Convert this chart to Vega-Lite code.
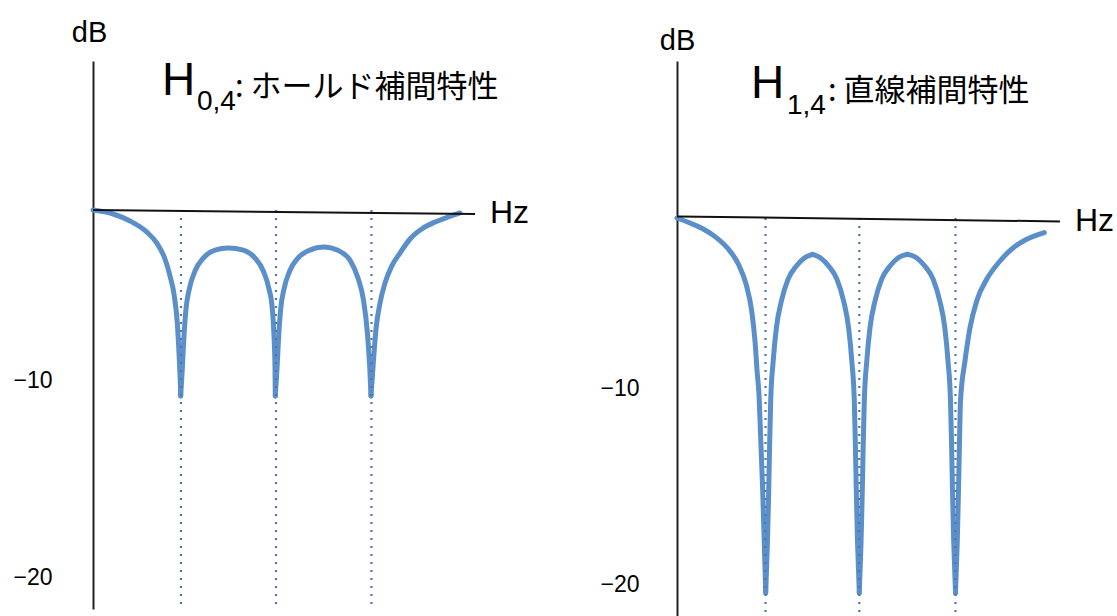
{
  "$schema": "https://vega.github.io/schema/vega-lite/v6.json",
  "background": "white",
  "padding": {"left": 12, "top": 18, "right": 0, "bottom": 0},
  "spacing": 199,
  "bounds": "flush",
  "config": {"view": {"stroke": null}, "axis": {"grid": false}},
  "hconcat": [
    {
      "width": 385,
      "height": 548,
      "encoding": {
        "y": {"type": "quantitative",
          "scale": {"type": "pow", "exponent": 1.11, "domain": [-21.56, 8.878], "nice": false, "zero": false},
          "axis": {"title": "dB", "titleAngle": 0, "titleX": -4, "titleY": -20, "titleAlign": "center", "titleBaseline": "alphabetic",
            "titleFont": "Liberation Sans", "titleFontSize": 29, "titleFontWeight": "normal", "titleColor": "#000",
            "values": [-10, -20], "format": "d", "ticks": false, "tickSize": 0, "labelPadding": 41,
            "labelFont": "Liberation Sans", "labelFontSize": 23, "labelColor": "#000",
            "domainColor": "#222", "domainWidth": 2, "grid": false}}
      },
      "layer": [
        {
          "data": {"values": [
            {"seg": 1, "f": 0, "db": 0}, {"seg": 1, "f": 0.203, "db": -0.34}, {"seg": 1, "f": 0.37, "db": -0.85}, {"seg": 1, "f": 0.537, "db": -1.58},
            {"seg": 1, "f": 0.637, "db": -2.28}, {"seg": 1, "f": 0.72, "db": -3.26}, {"seg": 1, "f": 0.77, "db": -4.26}, {"seg": 1, "f": 0.813, "db": -5.41},
            {"seg": 1, "f": 0.843, "db": -6.92}, {"seg": 1, "f": 0.86, "db": -8.55}, {"seg": 1, "f": 0.873, "db": -10.16}, {"seg": 1, "f": 0.877, "db": -10.84},
            {"seg": 2, "f": 0.877, "db": -10.84}, {"seg": 2, "f": 0.893, "db": -9.41}, {"seg": 2, "f": 0.91, "db": -7.63}, {"seg": 2, "f": 0.93, "db": -6.14},
            {"seg": 2, "f": 0.963, "db": -5.01}, {"seg": 2, "f": 1.02, "db": -3.97}, {"seg": 2, "f": 1.103, "db": -3.2}, {"seg": 2, "f": 1.22, "db": -2.72},
            {"seg": 2, "f": 1.353, "db": -2.59}, {"seg": 2, "f": 1.503, "db": -2.72}, {"seg": 2, "f": 1.62, "db": -3.2}, {"seg": 2, "f": 1.703, "db": -3.97},
            {"seg": 2, "f": 1.76, "db": -5.01}, {"seg": 2, "f": 1.793, "db": -6.14}, {"seg": 2, "f": 1.81, "db": -7.63}, {"seg": 2, "f": 1.82, "db": -9.41},
            {"seg": 2, "f": 1.823, "db": -10.84},
            {"seg": 3, "f": 1.823, "db": -10.84}, {"seg": 3, "f": 1.84, "db": -9.41}, {"seg": 3, "f": 1.857, "db": -7.63}, {"seg": 3, "f": 1.877, "db": -6.14},
            {"seg": 3, "f": 1.91, "db": -5.01}, {"seg": 3, "f": 1.967, "db": -3.97}, {"seg": 3, "f": 2.05, "db": -3.2}, {"seg": 3, "f": 2.167, "db": -2.72},
            {"seg": 3, "f": 2.305, "db": -2.53}, {"seg": 3, "f": 2.455, "db": -2.75}, {"seg": 3, "f": 2.575, "db": -3.38}, {"seg": 3, "f": 2.65, "db": -4.38},
            {"seg": 3, "f": 2.705, "db": -5.64}, {"seg": 3, "f": 2.745, "db": -7.52}, {"seg": 3, "f": 2.768, "db": -9.41}, {"seg": 3, "f": 2.78, "db": -10.84},
            {"seg": 4, "f": 2.78, "db": -10.84}, {"seg": 4, "f": 2.803, "db": -9.09}, {"seg": 4, "f": 2.83, "db": -7.25}, {"seg": 4, "f": 2.87, "db": -5.81},
            {"seg": 4, "f": 2.92, "db": -4.67}, {"seg": 4, "f": 2.987, "db": -3.68}, {"seg": 4, "f": 3.07, "db": -2.9}, {"seg": 4, "f": 3.17, "db": -2.03},
            {"seg": 4, "f": 3.287, "db": -1.39}, {"seg": 4, "f": 3.42, "db": -0.92}, {"seg": 4, "f": 3.553, "db": -0.56}, {"seg": 4, "f": 3.67, "db": -0.26}
          ]},
          "mark": {"type": "line", "color": "#5b8fca", "strokeWidth": 5, "interpolate": "monotone", "strokeCap": "round"},
          "encoding": {
            "x": {"field": "f", "type": "quantitative", "scale": {"domain": [0, 3.85], "nice": false, "zero": false}, "axis": null},
            "y": {"field": "db"},
            "detail": {"field": "seg", "type": "nominal"}
          }
        },
        {
          "data": {"values": [{"f": 0.88}, {"f": 1.83}, {"f": 2.785}]},
          "mark": {"type": "rule", "color": "#4f76ad", "strokeWidth": 2.2, "strokeDash": [2, 6]},
          "encoding": {
            "x": {"field": "f", "type": "quantitative", "axis": null},
            "y": {"datum": 0},
            "y2": {"datum": -21.56}
          }
        },
        {
          "data": {"values": [{}]},
          "mark": {"type": "rule", "color": "#111", "strokeWidth": 2},
          "encoding": {
            "x": {"datum": 0, "type": "quantitative", "axis": null},
            "x2": {"datum": 3.82},
            "y": {"datum": 0},
            "y2": {"datum": -0.34}
          }
        },
        {
          "data": {"values": [{}]},
          "mark": {"type": "text", "text": "Hz", "align": "left", "baseline": "middle", "dx": 15, "font": "Liberation Sans", "fontSize": 32, "color": "#000"},
          "encoding": {
            "x": {"datum": 3.82, "type": "quantitative", "axis": null},
            "y": {"datum": -0.3}
          }
        },
        {
          "data": {"values": [{}]},
          "mark": {"type": "text", "text": "H", "align": "left", "baseline": "alphabetic", "font": "Liberation Sans", "fontSize": 46, "color": "#000"},
          "encoding": {
            "x": {"datum": 0.69, "type": "quantitative", "axis": null},
            "y": {"datum": 7.03}
          }
        },
        {
          "data": {"values": [{}]},
          "mark": {"type": "text", "text": "0,4", "align": "left", "baseline": "alphabetic", "font": "Liberation Sans", "fontSize": 28, "color": "#000"},
          "encoding": {
            "x": {"datum": 1.04, "type": "quantitative", "axis": null},
            "y": {"datum": 6.2}
          }
        },
        {
          "data": {"values": [{}]},
          "mark": {"type": "text", "text": ": ホールド補間特性", "align": "left", "baseline": "alphabetic", "font": "Noto Sans CJK JP", "fontSize": 31, "color": "#000"},
          "encoding": {
            "x": {"datum": 1.42, "type": "quantitative", "axis": null},
            "y": {"datum": 6.92}
          }
        }
      ]
    },
    {
      "width": 385,
      "height": 560,
      "encoding": {
        "y": {"type": "quantitative",
          "scale": {"type": "pow", "exponent": 1.11, "domain": [-21.76, 9.306], "nice": false, "zero": false},
          "axis": {"title": "dB", "titleAngle": 0, "titleX": 0, "titleY": -12, "titleAlign": "center", "titleBaseline": "alphabetic",
            "titleFont": "Liberation Sans", "titleFontSize": 29, "titleFontWeight": "normal", "titleColor": "#000",
            "values": [-10, -20], "format": "d", "ticks": false, "tickSize": 0, "labelPadding": 38,
            "labelFont": "Liberation Sans", "labelFontSize": 23, "labelColor": "#000",
            "domainColor": "#222", "domainWidth": 2, "grid": false}}
      },
      "layer": [
        {
          "data": {"values": [
            {"seg": 1, "f": 0, "db": 0}, {"seg": 1, "f": 0.13, "db": -0.42}, {"seg": 1, "f": 0.263, "db": -0.85}, {"seg": 1, "f": 0.397, "db": -1.45},
            {"seg": 1, "f": 0.513, "db": -2.16}, {"seg": 1, "f": 0.613, "db": -3.08}, {"seg": 1, "f": 0.69, "db": -4.26}, {"seg": 1, "f": 0.747, "db": -5.81},
            {"seg": 1, "f": 0.78, "db": -7.47}, {"seg": 1, "f": 0.803, "db": -9.25}, {"seg": 1, "f": 0.818, "db": -10.16}, {"seg": 1, "f": 0.838, "db": -12.76},
            {"seg": 1, "f": 0.857, "db": -15.31}, {"seg": 1, "f": 0.872, "db": -17.82}, {"seg": 1, "f": 0.887, "db": -20.39},
            {"seg": 2, "f": 0.887, "db": -20.39}, {"seg": 2, "f": 0.905, "db": -17.82}, {"seg": 2, "f": 0.917, "db": -15.31}, {"seg": 2, "f": 0.927, "db": -12.76},
            {"seg": 2, "f": 0.937, "db": -10.68}, {"seg": 2, "f": 0.962, "db": -8.55}, {"seg": 2, "f": 0.994, "db": -6.74}, {"seg": 2, "f": 1.044, "db": -5.24},
            {"seg": 2, "f": 1.11, "db": -3.99}, {"seg": 2, "f": 1.194, "db": -3.2}, {"seg": 2, "f": 1.277, "db": -2.7}, {"seg": 2, "f": 1.355, "db": -2.49},
            {"seg": 3, "f": 1.355, "db": -2.49}, {"seg": 3, "f": 1.433, "db": -2.7}, {"seg": 3, "f": 1.516, "db": -3.2}, {"seg": 3, "f": 1.6, "db": -3.99},
            {"seg": 3, "f": 1.666, "db": -5.24}, {"seg": 3, "f": 1.716, "db": -6.74}, {"seg": 3, "f": 1.748, "db": -8.55}, {"seg": 3, "f": 1.773, "db": -10.68},
            {"seg": 3, "f": 1.783, "db": -12.76}, {"seg": 3, "f": 1.793, "db": -15.31}, {"seg": 3, "f": 1.805, "db": -17.82}, {"seg": 3, "f": 1.823, "db": -20.39},
            {"seg": 4, "f": 1.823, "db": -20.39}, {"seg": 4, "f": 1.841, "db": -17.82}, {"seg": 4, "f": 1.853, "db": -15.31}, {"seg": 4, "f": 1.863, "db": -12.76},
            {"seg": 4, "f": 1.873, "db": -10.68}, {"seg": 4, "f": 1.898, "db": -8.55}, {"seg": 4, "f": 1.93, "db": -6.74}, {"seg": 4, "f": 1.98, "db": -5.24},
            {"seg": 4, "f": 2.046, "db": -3.99}, {"seg": 4, "f": 2.13, "db": -3.2}, {"seg": 4, "f": 2.213, "db": -2.7}, {"seg": 4, "f": 2.304, "db": -2.49},
            {"seg": 5, "f": 2.304, "db": -2.49}, {"seg": 5, "f": 2.395, "db": -2.7}, {"seg": 5, "f": 2.478, "db": -3.2}, {"seg": 5, "f": 2.562, "db": -3.99},
            {"seg": 5, "f": 2.628, "db": -5.24}, {"seg": 5, "f": 2.678, "db": -6.74}, {"seg": 5, "f": 2.71, "db": -8.55}, {"seg": 5, "f": 2.735, "db": -10.68},
            {"seg": 5, "f": 2.745, "db": -12.76}, {"seg": 5, "f": 2.755, "db": -15.31}, {"seg": 5, "f": 2.767, "db": -17.82}, {"seg": 5, "f": 2.785, "db": -20.39},
            {"seg": 6, "f": 2.785, "db": -20.39}, {"seg": 6, "f": 2.803, "db": -17.82}, {"seg": 6, "f": 2.815, "db": -15.31}, {"seg": 6, "f": 2.825, "db": -12.76},
            {"seg": 6, "f": 2.835, "db": -10.68}, {"seg": 6, "f": 2.88, "db": -8.55}, {"seg": 6, "f": 2.93, "db": -6.74}, {"seg": 6, "f": 2.997, "db": -5.24},
            {"seg": 6, "f": 3.097, "db": -3.99}, {"seg": 6, "f": 3.23, "db": -2.9}, {"seg": 6, "f": 3.363, "db": -2.08}, {"seg": 6, "f": 3.497, "db": -1.54},
            {"seg": 6, "f": 3.673, "db": -1.1}
          ]},
          "mark": {"type": "line", "color": "#5b8fca", "strokeWidth": 5, "interpolate": "monotone", "strokeCap": "round"},
          "encoding": {
            "x": {"field": "f", "type": "quantitative", "scale": {"domain": [0, 3.85], "nice": false, "zero": false}, "axis": null},
            "y": {"field": "db"},
            "detail": {"field": "seg", "type": "nominal"}
          }
        },
        {
          "data": {"values": [{"f": 0.885}, {"f": 1.823}, {"f": 2.785}]},
          "mark": {"type": "rule", "color": "#4f76ad", "strokeWidth": 2.2, "strokeDash": [2, 6]},
          "encoding": {
            "x": {"field": "f", "type": "quantitative", "axis": null},
            "y": {"datum": 0},
            "y2": {"datum": -21.76}
          }
        },
        {
          "data": {"values": [{}]},
          "mark": {"type": "rule", "color": "#111", "strokeWidth": 2},
          "encoding": {
            "x": {"datum": 0, "type": "quantitative", "axis": null},
            "x2": {"datum": 3.83},
            "y": {"datum": 0.15},
            "y2": {"datum": -0.3}
          }
        },
        {
          "data": {"values": [{}]},
          "mark": {"type": "text", "text": "Hz", "align": "left", "baseline": "middle", "dx": 15, "font": "Liberation Sans", "fontSize": 32, "color": "#000"},
          "encoding": {
            "x": {"datum": 3.83, "type": "quantitative", "axis": null},
            "y": {"datum": -0.26}
          }
        },
        {
          "data": {"values": [{}]},
          "mark": {"type": "text", "text": "H", "align": "left", "baseline": "alphabetic", "font": "Liberation Sans", "fontSize": 46, "color": "#000"},
          "encoding": {
            "x": {"datum": 0.74, "type": "quantitative", "axis": null},
            "y": {"datum": 7.31}
          }
        },
        {
          "data": {"values": [{}]},
          "mark": {"type": "text", "text": "1,4", "align": "left", "baseline": "alphabetic", "font": "Liberation Sans", "fontSize": 28, "color": "#000"},
          "encoding": {
            "x": {"datum": 1.1, "type": "quantitative", "axis": null},
            "y": {"datum": 6.42}
          }
        },
        {
          "data": {"values": [{}]},
          "mark": {"type": "text", "text": ": 直線補間特性", "align": "left", "baseline": "alphabetic", "font": "Noto Sans CJK JP", "fontSize": 31, "color": "#000"},
          "encoding": {
            "x": {"datum": 1.51, "type": "quantitative", "axis": null},
            "y": {"datum": 7.14}
          }
        }
      ]
    }
  ]
}
